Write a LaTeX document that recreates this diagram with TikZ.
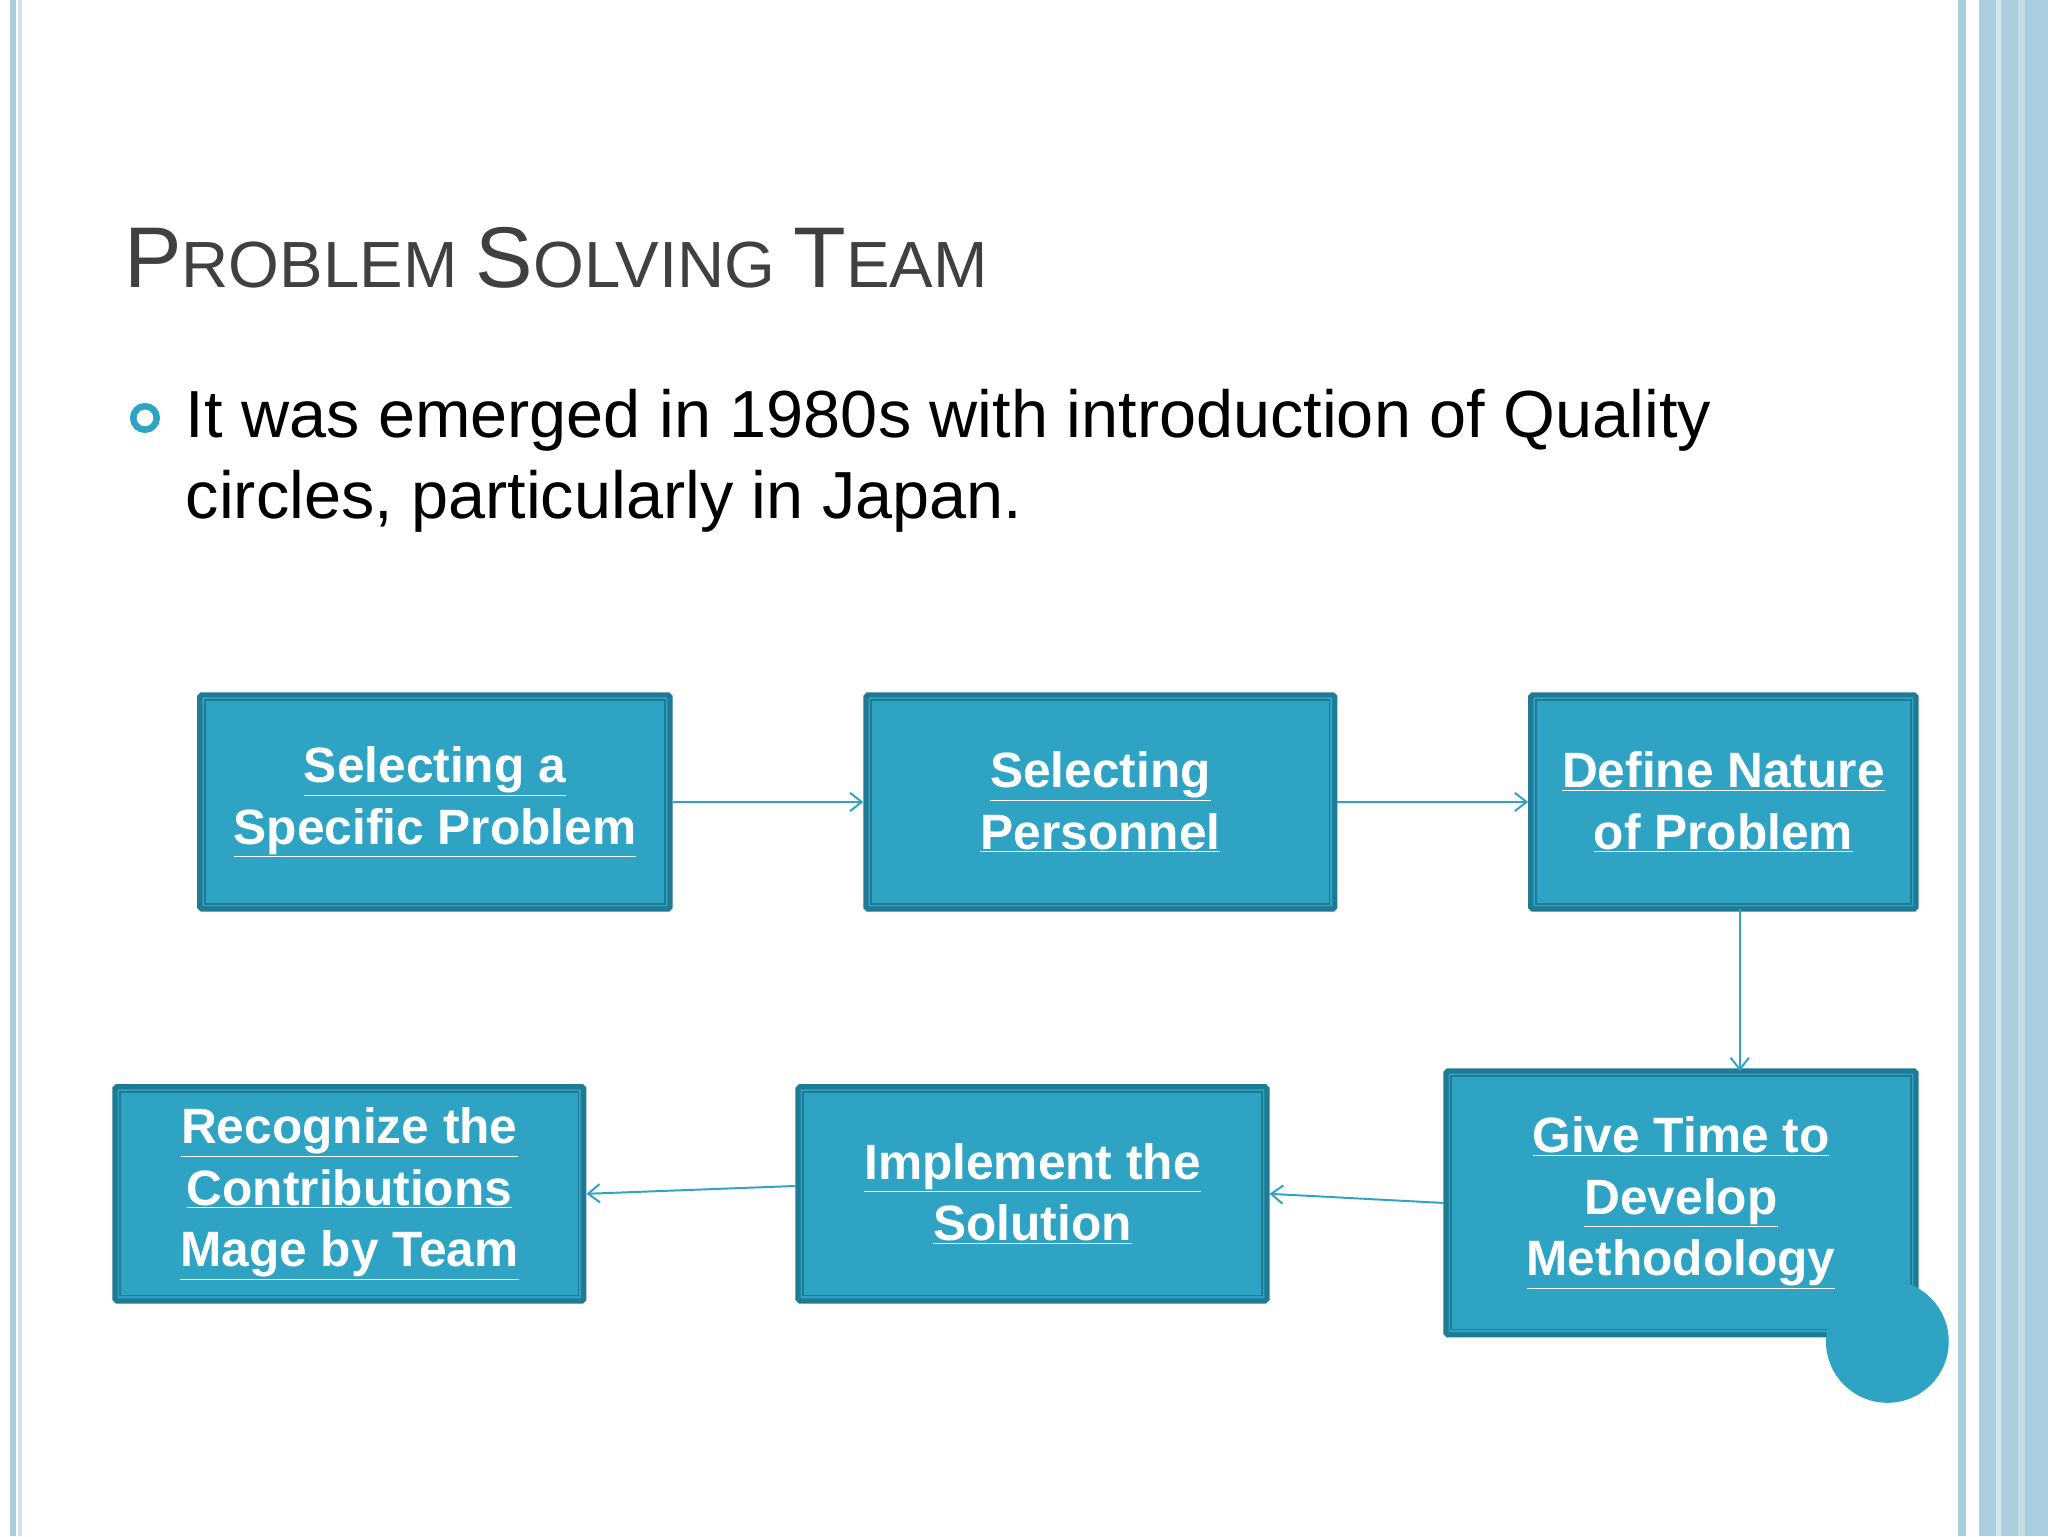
\documentclass[tikz,border=0pt]{standalone}
\usepackage{fontspec}
\setmainfont{Liberation Sans}
\usetikzlibrary{arrows.meta}
\definecolor{teal}{HTML}{2FA3C4}
\definecolor{dteal}{HTML}{1F7A94}
\definecolor{lb}{HTML}{A9CEDD}
\definecolor{tgray}{HTML}{404040}
\tikzset{
 box/.style={draw=dteal,line width=4pt,fill=teal,rounded corners=1.5pt,minimum width=#1,text=white,align=center,font=\fontsize{38}{47}\selectfont\bfseries},
 conn/.style={draw=teal,line width=1.5pt,-{Straight Barb[length=9pt,width=14pt]}}
}
\newcommand{\ul}[1]{\underline{#1}}
\newcommand{\inner}[1]{\draw[dteal,line width=1.2pt] ([shift={(6,6)}]#1.north west) rectangle ([shift={(-6,-6)}]#1.south east);}
\begin{document}
\begin{tikzpicture}[x=1pt,y=-1pt]
\useasboundingbox (0,0) rectangle (1568,1176);
\fill[white] (0,0) rectangle (1568,1176);
% borders
\fill[lb] (8,0) rectangle (12,1176);
\fill[lb!60] (14,0) rectangle (17,1176);
\fill[lb] (1499,0) rectangle (1505,1176);
\fill[lb] (1515,0) rectangle (1568,1176);
\fill[lb!50] (1528,0) rectangle (1532,1176);
\fill[lb!70] (1545,0) rectangle (1550,1176);
% title
\node[anchor=base west,text=tgray,inner sep=0] (title) at (95,220)
 {\fontsize{66}{70}\selectfont P\fontsize{50}{60}\selectfont ROBLEM \fontsize{66}{70}\selectfont S\fontsize{50}{60}\selectfont OLVING \fontsize{66}{70}\selectfont T\fontsize{50}{60}\selectfont EAM};
\draw[teal,line width=5pt] (111,320) circle (9);
\node[anchor=base west,inner sep=0,font=\fontsize{51}{62}\selectfont] (bul1) at (142,335)
 {It was emerged in 1980s with introduction of Quality};
\node[anchor=base west,inner sep=0,font=\fontsize{51}{62}\selectfont] (bul2) at (142,397)
 {circles, particularly in Japan.};
% boxes
\node[box=360pt,minimum height=164pt] (b1) at (333,614) {\ul{Selecting a}\\\ul{Specific Problem}};
\node[box=359pt,minimum height=164pt] (b2) at (842.5,614) {\ul{Selecting}\\\ul{Personnel}};
\node[box=295pt,minimum height=164pt] (b3) at (1319.5,614) {\ul{Define Nature}\\\ul{of Problem}};
\node[box=360pt,minimum height=202pt] (b4) at (1287,921) {\ul{Give Time to}\\\ul{Develop}\\\ul{Methodology}};
\node[box=359pt,minimum height=164pt] (b5) at (790.5,914) {\ul{Implement the}\\\ul{Solution}};
\node[box=359pt,minimum height=164pt] (b6) at (267.5,914) {\ul{Recognize the}\\\ul{Contributions}\\\ul{Mage by Team}};
\inner{b1}\inner{b2}\inner{b3}\inner{b4}\inner{b5}\inner{b6}
\draw[conn] (b1.east) -- (b2.west);
\draw[conn] (b2.east) -- (b3.west);
\draw[conn] (1332,696) coordinate (s3) -- (1332,820) coordinate (e4);
\draw[conn] (b4.west) -- (b5.east);
\draw[conn] ([yshift=6pt]b5.west) -- (b6.east);
\fill[teal] (1445,1027) circle (47);
\end{tikzpicture}
\end{document}
